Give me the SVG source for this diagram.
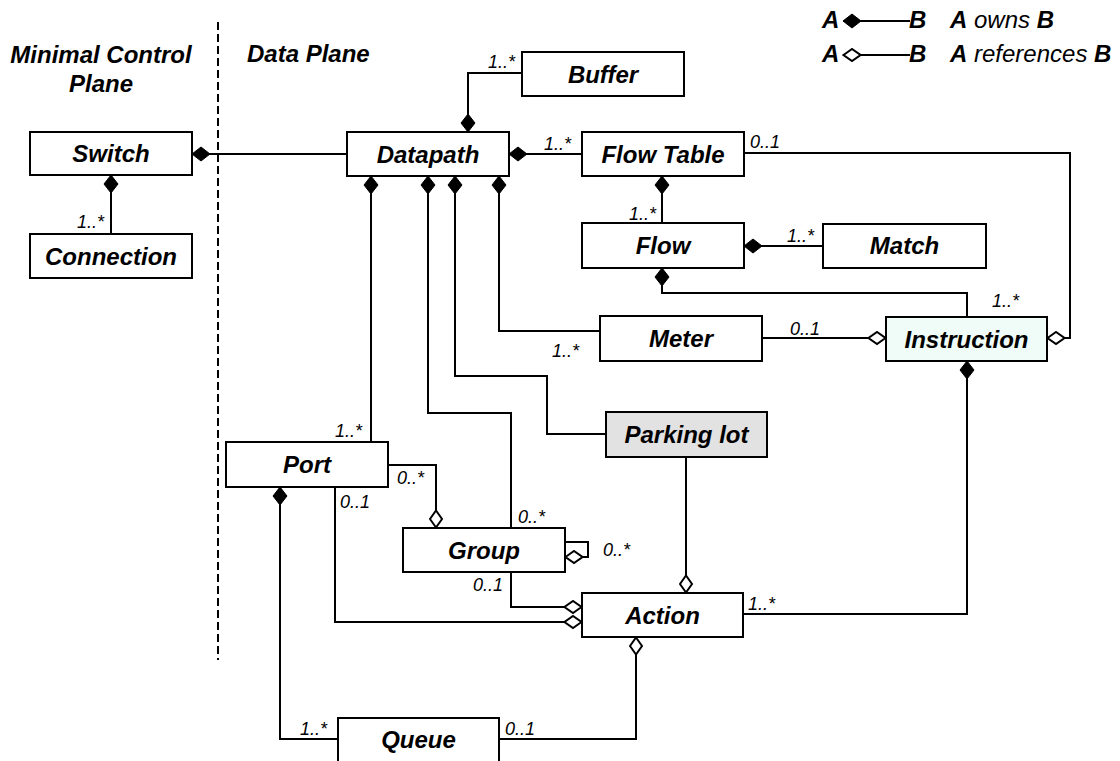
<svg xmlns="http://www.w3.org/2000/svg" width="1120" height="761" viewBox="0 0 1120 761">
<style>
text{font-family:"Liberation Sans",Arial,Helvetica,sans-serif;fill:#000}
.box{fill:#fff;stroke:#000;stroke-width:2}
.lbl{font-size:24px;font-weight:bold;font-style:italic;text-anchor:middle}
.hdr{font-size:24px;font-weight:bold;font-style:italic}
.m{font-size:18px;font-style:italic}
.c{fill:none;stroke:#000;stroke-width:2}
.own{marker-start:url(#own)}
.ref{marker-start:url(#ref)}
.lg{font-size:24px;font-style:italic}
.b{font-weight:bold}
</style>
<defs>
<marker id="own" viewBox="-1 -1 20 16" refX="0" refY="7" markerWidth="20" markerHeight="16" markerUnits="userSpaceOnUse" orient="auto">
<path d="M0,7 L9,0 L18,7 L9,14 Z" fill="#000" stroke="#000" stroke-width="1"/>
</marker>
<marker id="ref" viewBox="-1 -1 20 15" refX="0" refY="6.5" markerWidth="20" markerHeight="15" markerUnits="userSpaceOnUse" orient="auto">
<path d="M0.5,6.5 L9,0.5 L17.5,6.5 L9,12.5 Z" fill="#fff" stroke="#000" stroke-width="2"/>
</marker>
</defs>

<g id="headers">
<text class="hdr" x="101" y="63" text-anchor="middle">Minimal Control</text>
<text class="hdr" x="101" y="92" text-anchor="middle">Plane</text>
<text class="hdr" x="247" y="62">Data Plane</text>
<line x1="218" y1="22" x2="218" y2="660" stroke="#000" stroke-width="2" stroke-dasharray="8,4"/>
</g>

<g id="legend">
<text class="hdr" x="822" y="28">A</text>
<path class="c own" d="M843,21 H910"/>
<text class="hdr" x="909" y="28">B</text>
<text class="lg" x="950" y="28"><tspan class="b">A</tspan> owns <tspan class="b">B</tspan></text>
<text class="hdr" x="822" y="62">A</text>
<path class="c ref" d="M843,55 H910"/>
<text class="hdr" x="909" y="62">B</text>
<text class="lg" x="950" y="62"><tspan class="b">A</tspan> references <tspan class="b">B</tspan></text>
</g>

<g id="connectors">
<path class="c own" d="M192,154 H347"/>
<path class="c own" d="M111,175 V234"/>
<path class="c own" d="M468,132 V73 H522"/>
<path class="c own" d="M509,154 H582"/>
<path class="c own" d="M662,176 V223"/>
<path class="c own" d="M744,246 H823"/>
<path class="c own" d="M662,268 V293 H967 V317"/>
<path class="c ref" d="M1047,338 H1070 V153 H744"/>
<path class="c ref" d="M886,338 H762"/>
<path class="c own" d="M371,176 V442"/>
<path class="c own" d="M499,176 V331 H600"/>
<path class="c own" d="M455,176 V376 H547 V434 H606"/>
<path class="c own" d="M428,176 V413 H511 V528"/>
<path class="c ref" d="M436,528 V465 H388"/>
<path class="c ref" d="M565,557 H588 V542 H565"/>
<path class="c ref" d="M582,622 H335 V487"/>
<path class="c ref" d="M582,607 H511 V572"/>
<path class="c ref" d="M686,593 V457"/>
<path class="c own" d="M967,361 V614 H743"/>
<path class="c own" d="M280,487 V739 H338"/>
<path class="c ref" d="M636,637 V739 H499"/>
</g>

<g id="multiplicities">
<text class="m" x="77" y="228">1..*</text>
<text class="m" x="488" y="68">1..*</text>
<text class="m" x="544" y="150">1..*</text>
<text class="m" x="750" y="148">0..1</text>
<text class="m" x="629" y="220">1..*</text>
<text class="m" x="787" y="242">1..*</text>
<text class="m" x="992" y="307">1..*</text>
<text class="m" x="790" y="335">0..1</text>
<text class="m" x="552" y="357">1..*</text>
<text class="m" x="335" y="437">1..*</text>
<text class="m" x="397" y="484">0..*</text>
<text class="m" x="340" y="508">0..1</text>
<text class="m" x="518" y="523">0..*</text>
<text class="m" x="603" y="556">0..*</text>
<text class="m" x="473" y="591">0..1</text>
<text class="m" x="748" y="610">1..*</text>
<text class="m" x="300" y="735">1..*</text>
<text class="m" x="505" y="735">0..1</text>
</g>

<g id="switch"><rect class="box" x="30" y="132" width="162" height="43"/><text class="lbl" x="111" y="162">Switch</text></g>
<g id="connection"><rect class="box" x="30" y="234" width="162" height="44"/><text class="lbl" x="111" y="264.5">Connection</text></g>
<g id="datapath"><rect class="box" x="347" y="132" width="162" height="44"/><text class="lbl" x="428" y="162.5">Datapath</text></g>
<g id="buffer"><rect class="box" x="522" y="52" width="162" height="44"/><text class="lbl" x="603" y="82.5">Buffer</text></g>
<g id="flowtable"><rect class="box" x="582" y="132" width="162" height="44"/><text class="lbl" x="663" y="162.5">Flow Table</text></g>
<g id="flow"><rect class="box" x="582" y="223" width="162" height="45"/><text class="lbl" x="663" y="254">Flow</text></g>
<g id="match"><rect class="box" x="823" y="224" width="163" height="44"/><text class="lbl" x="904.5" y="254">Match</text></g>
<g id="meter"><rect class="box" x="600" y="316" width="162" height="45"/><text class="lbl" x="681" y="347">Meter</text></g>
<g id="instruction"><rect class="box" x="886" y="317" width="161" height="44" style="fill:#effcf7"/><text class="lbl" x="966.5" y="347.5">Instruction</text></g>
<g id="parkinglot"><rect class="box" x="606" y="412" width="161" height="45" style="fill:#e2e2e2"/><text class="lbl" x="686.5" y="443">Parking lot</text></g>
<g id="port"><rect class="box" x="226" y="442" width="162" height="45"/><text class="lbl" x="307" y="473">Port</text></g>
<g id="group"><rect class="box" x="403" y="528" width="162" height="44"/><text class="lbl" x="484" y="558.5">Group</text></g>
<g id="action"><rect class="box" x="582" y="593" width="161" height="44"/><text class="lbl" x="662.5" y="623.5">Action</text></g>
<g id="queue"><rect class="box" x="338" y="718" width="161" height="44"/><text class="lbl" x="418.5" y="748">Queue</text></g>
</svg>
